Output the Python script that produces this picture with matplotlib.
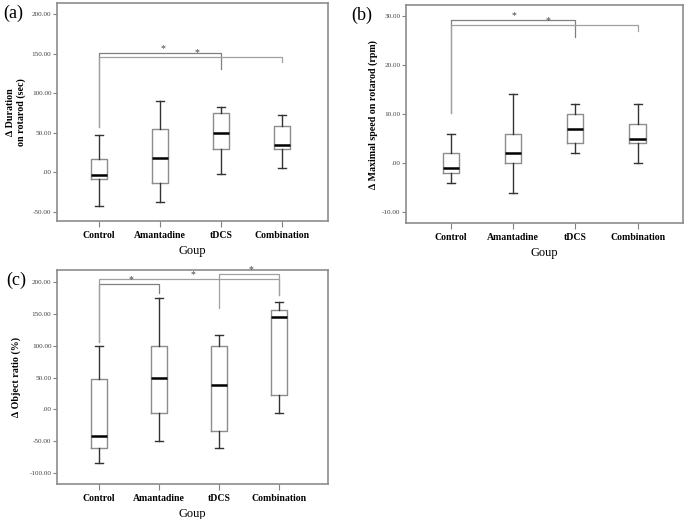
import numpy as np
import matplotlib.pyplot as plt

# Grupos del experimento
grupos = ['Control', 'Amantadine', 'tDCS', 'Combination']

# (a) Delta duration on rotarod (sec): bigote inferior, Q1, mediana, Q3, bigote superior
a_low = [-42, -37, -2, 5]
a_q1 = [-8, -14, 29, 30]
a_med = [-3, 18, 50, 34]
a_q3 = [17, 55, 75, 58]
a_high = [47, 90, 82, 73]

# (b) Delta maximal speed on rotarod (rpm)
b_low = [-4, -6, 2, 0]
b_q1 = [-2, 0, 4, 4]
b_med = [-1, 2, 7, 5]
b_q3 = [2, 6, 10, 8]
b_high = [6, 14, 12, 12]

# (c) Delta object ratio (%)
c_low = [-84, -50, -60, -5]
c_q1 = [-60, -5, -33, 22]
c_med = [-42, 50, 38, 144]
c_q3 = [48, 100, 100, 156]
c_high = [100, 175, 117, 169]

# Comparaciones significativas: (grupo1, grupo2, altura, fin izq, fin der)
a_sig = [(0, 2, 151, 57, 131), (0, 3, 146, 57, 140)]
b_sig = [(0, 2, 29.1, 10.2, 25.6), (0, 3, 28.2, 10.2, 27)]
c_sig = [(0, 1, 196, 105, 183), (0, 3, 204, 105, 180), (2, 3, 211.5, 159, 180)]

serif = 'Liberation Serif'


def etiqueta(v):
    s = '%.2f' % v
    if v == 0:
        s = '.00'
    return s


# Funcion que dibuja un panel de cajas con sus comparaciones
def panel(ax, low, q1, med, q3, high, sig, ticks, ylim, xlim, ylabel, letra, star_dx):
    stats = []
    for i in range(len(grupos)):
        stats.append({'whislo': low[i], 'q1': q1[i], 'med': med[i], 'q3': q3[i],
                      'whishi': high[i], 'fliers': []})
    ax.bxp(stats, positions=np.arange(len(grupos)), widths=0.26, showfliers=False,
           boxprops=dict(color='#8c8c8c', linewidth=1.0),
           whiskerprops=dict(color='#333333', linewidth=1.0),
           capprops=dict(color='#333333', linewidth=1.0),
           medianprops=dict(color='black', linewidth=1.8))

    for k, (g1, g2, y, y1, y2) in enumerate(sig):
        col = '#808080' if k == 0 else '#a0a0a0'
        ax.plot([g1, g1, g2, g2], [y1, y, y, y2], color=col, linewidth=0.9)
        ax.text((g1 + g2) / 2 + star_dx[k], y, '*', ha='center', va='bottom',
                fontsize=7, color='#444444', family=serif)

    ax.set_xlim(xlim)
    ax.set_ylim(ylim)
    ax.set_yticks(ticks)
    ax.set_yticklabels([etiqueta(t) for t in ticks], fontsize=5.2,
                       color='#444444', family=serif)
    ax.set_xticks(np.arange(len(grupos)))
    ax.set_xticklabels(grupos, fontsize=7, fontweight='bold', family=serif)
    ax.tick_params(axis='x', length=4, color='#808080', pad=3)
    ax.tick_params(axis='y', length=3, color='#808080', pad=1)
    for s in ax.spines.values():
        s.set_color('#8c8c8c')
        s.set_linewidth(1.2)
    ax.set_xlabel('Goup', fontsize=9, family=serif, labelpad=4)
    ax.text(ylabel[1], 0.5, ylabel[0], transform=ax.transAxes, rotation=90,
            ha='center', va='center', fontsize=7.2, fontweight='bold',
            family=[serif, 'DejaVu Serif'], multialignment='center')
    ax.text(letra[1], letra[2], letra[0], transform=ax.figure.transFigure,
            ha='center', va='center', fontsize=13, family=serif)


fig = plt.figure(figsize=(6.85, 5.19), dpi=100)
ax1 = fig.add_axes([0.0832, 0.5742, 0.3956, 0.42])
ax2 = fig.add_axes([0.5927, 0.5703, 0.4044, 0.42])
ax3 = fig.add_axes([0.0832, 0.0674, 0.3956, 0.4123])

panel(ax1, a_low, a_q1, a_med, a_q3, a_high, a_sig, np.arange(-50, 201, 50),
      (-61.4, 213.9), (-0.69, 3.75), ('\u2206 Duration\non rotarod (sec)', -0.15),
      ('(a)', 13 / 685, 1 - 13 / 519), [0.05, 0.1])
panel(ax2, b_low, b_q1, b_med, b_q3, b_high, b_sig, np.arange(-10, 31, 10),
      (-12.2, 32.2), (-0.72, 3.73), ('\u2206 Maximal speed on rotarod (rpm)', -0.12),
      ('(b)', 362 / 685, 1 - 15 / 519), [0.02, 0.06])
panel(ax3, c_low, c_q1, c_med, c_q3, c_high, c_sig, np.arange(-100, 201, 50),
      (-116.7, 218.3), (-0.7, 3.82), ('\u2206 Object ratio (%)', -0.15),
      ('(c)', 16 / 685, 1 - 280 / 519), [0.03, 0.06, 0.03])

fig.savefig('out.png', dpi=100)
